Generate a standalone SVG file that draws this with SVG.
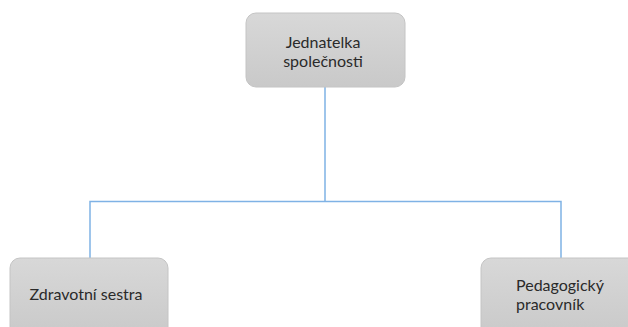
<svg xmlns="http://www.w3.org/2000/svg" width="628" height="327" viewBox="0 0 628 327">
<defs>
<linearGradient id="g" x1="0" y1="0" x2="0" y2="1">
<stop offset="0" stop-color="#d8d8d8"/>
<stop offset="1" stop-color="#c9c9c9"/>
</linearGradient>
<style>
.box{fill:url(#g);stroke:#c4c4c4;stroke-width:1}
.t{font-family:Lato,"Liberation Sans",sans-serif;font-size:16px;fill:#2a2a2a}
.c{fill:none;stroke:#7fb2e5;stroke-width:1.5}
</style>
</defs>
<rect width="628" height="327" fill="#fff"/>
<g id="connectors">
<path class="c" d="M325 87 V201.5 M90 259 V201.5 H561 V259"/>
</g>
<g id="jednatelka">
<rect class="box" x="246" y="13" width="159" height="74" rx="10"/>
<text class="t" x="323" y="47.5" text-anchor="middle">Jednatelka</text>
<text class="t" x="323" y="67" text-anchor="middle">společnosti</text>
</g>
<g id="sestra">
<rect class="box" x="10" y="258" width="158" height="80" rx="10"/>
<text class="t" x="86" y="300" text-anchor="middle">Zdravotní sestra</text>
</g>
<g id="pedagog">
<rect class="box" x="481" y="258" width="160" height="80" rx="10"/>
<text class="t" x="516" y="290.5">Pedagogický</text>
<text class="t" x="516" y="310">pracovník</text>
</g>
</svg>
